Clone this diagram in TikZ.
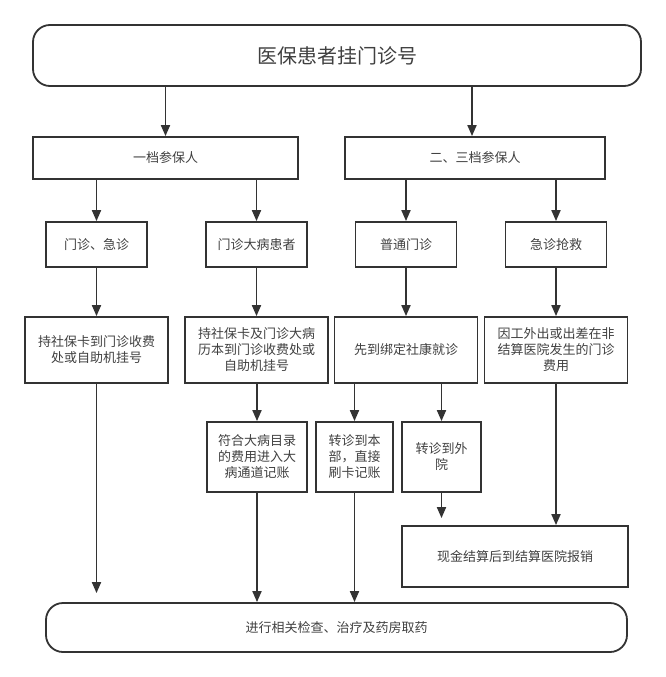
\documentclass[tikz,border=0pt]{standalone}
\usepackage{fontspec}
\newfontfamily\cjk{Noto Sans CJK SC}
\usetikzlibrary{arrows.meta}
\definecolor{linegray}{HTML}{333333}
\definecolor{textgray}{HTML}{404040}

\begin{document}
\begin{tikzpicture}[x=1pt, y=-1pt,
    box/.style={draw=linegray, line width=1.8pt, align=center, text=textgray, inner sep=0pt,
        font=\cjk\fontsize{13}{16}\selectfont},
    pill/.style={box, rounded corners=17pt},
    arr/.style={draw=linegray, line width=1.8pt, -{Triangle[length=11pt,width=9pt]}}]
    \useasboundingbox (0,0) rectangle (666,677);
    % 起点与两档参保人
    \node[pill, minimum width=608, minimum height=61, font=\cjk\fontsize{20}{23}\selectfont] (top) at (337,55.5) {医保患者挂门诊号};
    \node[box, minimum width=265, minimum height=42] (p1) at (165.5,158) {一档参保人};
    \node[box, minimum width=260, minimum height=42] (p2) at (475,158) {二、三档参保人};
    \node[box, minimum width=101, minimum height=45] (m1) at (96.5,244.5) {门诊、急诊};
    \node[box, minimum width=101, minimum height=45] (m2) at (256.5,244.5) {门诊大病患者};
    \node[box, minimum width=101, minimum height=45] (m3) at (406,244.5) {普通门诊};
    \node[box, minimum width=101, minimum height=45] (m4) at (556,244.5) {急诊抢救};
    \node[box, minimum width=143, minimum height=66] (r1) at (96.5,350) {持社保卡到门诊收费\\处或自助机挂号};
    \node[box, minimum width=143, minimum height=66] (r2) at (256.5,350) {持社保卡及门诊大病\\历本到门诊收费处或\\自助机挂号};
    \node[box, minimum width=143, minimum height=66] (r3) at (406,350) {先到绑定社康就诊};
    \node[box, minimum width=143, minimum height=66] (r4) at (556,350) {因工外出或出差在非\\结算医院发生的门诊\\费用};
    \node[box, minimum width=100, minimum height=70] (f1) at (257,457) {符合大病目录\\的费用进入大\\病通道记账};
    \node[box, minimum width=77, minimum height=70] (f2) at (354.5,457) {转诊到本\\部，直接\\刷卡记账};
    \node[box, minimum width=79, minimum height=70] (f3) at (441.5,457) {转诊到外\\院};
    \node[box, minimum width=226, minimum height=61] (cash) at (515,556.5) {现金结算后到结算医院报销};
    \node[pill, minimum width=581, minimum height=49] (end) at (336.5,627.5) {进行相关检查、治疗及药房取药};
    % 连线
    \draw[arr] (top.south -| p1) -- (p1.north);
    \draw[arr] (top.south -| 472,0) -- (p2.north -| 472,0);
    \foreach \a/\b in {p1/m1, p1/m2, p2/m3, p2/m4, m1/r1, m2/r2, m3/r3, m4/r4, r2/f1, r3/f2, r3/f3}
        \draw[arr] (\a.south -| \b) -- (\b.north);
    \draw[arr] (f1.south) -- (f1.south |- end.north);
    \draw[arr] (f2.south) -- (f2.south |- end.north);
    \draw[arr, shorten >=9pt] (r1.south) -- (r1.south |- end.north);
    \draw[arr, shorten >=7pt] (f3.south) -- (f3.south |- cash.north);
    \draw[arr] (r4.south) -- (r4.south |- cash.north);
\end{tikzpicture}
\end{document}
